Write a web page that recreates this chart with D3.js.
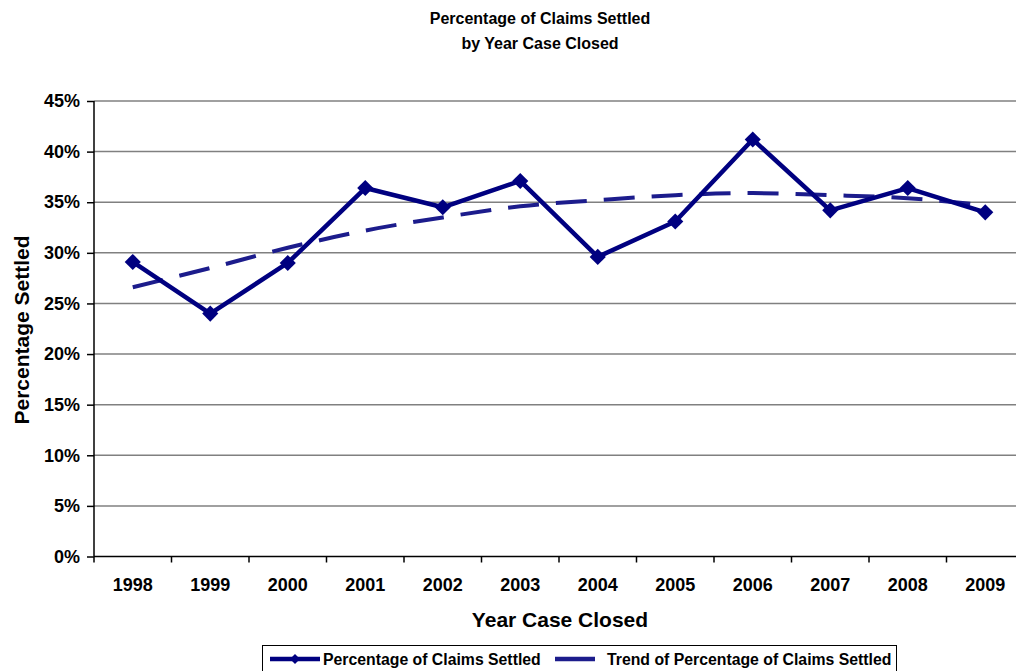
<!DOCTYPE html>
<html>
<head>
<meta charset="utf-8">
<script src="https://cdn.jsdelivr.net/npm/d3@7"></script>
<style>
  body { margin: 0; background: #fff; }
  svg { display: block; font-family: "Liberation Sans", Arial, sans-serif; }
</style>
</head>
<body>
<script>
var width = 1016,
    height = 671;

// data
var years = ["1998", "1999", "2000", "2001", "2002", "2003", "2004", "2005", "2006", "2007", "2008", "2009"];
var settled = [29.1, 24.0, 29.0, 36.4, 34.5, 37.1, 29.6, 33.1, 41.2, 34.2, 36.4, 34.0];
var trend = [26.6, 28.5, 30.5, 32.2, 33.5, 34.6, 35.2, 35.7, 35.9, 35.7, 35.4, 34.7];
var yTicks = [0, 5, 10, 15, 20, 25, 30, 35, 40, 45];

var margin = { top: 101, left: 94 };
var plotW = 930, plotH = 455.5;
var navy = "#000080";

var svg = d3.select("body")
    .append("svg")
    .attr("width", width)
    .attr("height", height);

var x = d3.scaleBand()
    .domain(years)
    .range([0, plotW]);

var y = d3.scaleLinear()
    .domain([0, 45])
    .range([plotH, 0]);

var g = svg.append("g")
    .attr("transform", "translate(" + margin.left + "," + margin.top + ")");

// gridlines
g.append("g")
    .selectAll("line")
    .data(yTicks.filter(function (d) { return d > 0; }))
    .enter().append("line")
    .attr("x1", 0)
    .attr("x2", plotW)
    .attr("y1", function (d) { return y(d); })
    .attr("y2", function (d) { return y(d); })
    .style("stroke", "#808080")
    .style("stroke-width", 1.5);

// y axis
var yAxis = d3.axisLeft(y)
    .tickValues(yTicks)
    .tickFormat(function (d) { return d + "%"; })
    .tickSize(7)
    .tickPadding(7);

g.append("g")
    .call(yAxis)
    .call(function (a) {
        a.select(".domain").attr("d", "M0," + plotH + "V0").style("stroke", "#000").style("stroke-width", 1.5);
        a.selectAll(".tick line").style("stroke", "#000").style("stroke-width", 1.5);
        a.selectAll("text")
            .style("font-size", "18px")
            .style("font-weight", "bold")
            .style("fill", "#000");
    });

// x axis: ticks on band boundaries
var xAxisG = g.append("g")
    .attr("transform", "translate(0," + plotH + ")");

xAxisG.append("line")
    .attr("x1", 0).attr("x2", plotW)
    .style("stroke", "#000")
    .style("stroke-width", 1.5);

xAxisG.selectAll(".bt")
    .data(years)
    .enter().append("line")
    .attr("class", "bt")
    .attr("x1", function (d) { return x(d); })
    .attr("x2", function (d) { return x(d); })
    .attr("y1", 0).attr("y2", 6)
    .style("stroke", "#000")
    .style("stroke-width", 1.5);

xAxisG.selectAll("text")
    .data(years)
    .enter().append("text")
    .attr("x", function (d) { return x(d) + x.bandwidth() / 2; })
    .attr("y", 34.5)
    .attr("text-anchor", "middle")
    .style("font-size", "18px")
    .style("font-weight", "bold")
    .text(function (d) { return d; });

var cx = function (d, i) { return x(years[i]) + x.bandwidth() / 2; };

// trend line
var trendLine = d3.line()
    .x(function (d, i) { return cx(d, i); })
    .y(function (d) { return y(d); })
    .curve(d3.curveMonotoneX);

g.append("path")
    .datum(trend)
    .attr("d", trendLine)
    .style("fill", "none")
    .style("stroke", "#1c1c8c")
    .style("stroke-width", 4)
    .style("stroke-dasharray", "31,17");

// data line
var dataLine = d3.line()
    .x(function (d, i) { return cx(d, i); })
    .y(function (d) { return y(d); });

g.append("path")
    .datum(settled)
    .attr("d", dataLine)
    .style("fill", "none")
    .style("stroke", navy)
    .style("stroke-width", 4.5)
    .style("stroke-linejoin", "round");

var diamond = d3.symbol().type(d3.symbolSquare).size(130);

g.append("g")
    .selectAll("path")
    .data(settled)
    .enter().append("path")
    .attr("d", diamond)
    .attr("transform", function (d, i) {
        return "translate(" + cx(d, i) + "," + y(d) + ") rotate(45)";
    })
    .style("fill", navy);

// titles
svg.append("text")
    .attr("x", 540).attr("y", 24)
    .attr("text-anchor", "middle")
    .style("font-size", "16px").style("font-weight", "bold")
    .text("Percentage of Claims Settled");

svg.append("text")
    .attr("x", 540).attr("y", 49)
    .attr("text-anchor", "middle")
    .style("font-size", "16px").style("font-weight", "bold")
    .text("by Year Case Closed");

svg.append("text")
    .attr("x", 560).attr("y", 627)
    .attr("text-anchor", "middle")
    .style("font-size", "21px").style("font-weight", "bold")
    .text("Year Case Closed");

svg.append("text")
    .attr("transform", "translate(29,330) rotate(-90)")
    .attr("text-anchor", "middle")
    .style("font-size", "21px").style("font-weight", "bold")
    .text("Percentage Settled");

// legend
var legend = svg.append("g");

legend.append("rect")
    .attr("x", 262.5).attr("y", 645.5)
    .attr("width", 634).attr("height", 40)
    .style("fill", "#fff")
    .style("stroke", "#000")
    .style("stroke-width", 1);

legend.append("line")
    .attr("x1", 270).attr("x2", 320)
    .attr("y1", 659).attr("y2", 659)
    .style("stroke", navy).style("stroke-width", 4.5);

legend.append("path")
    .attr("d", d3.symbol().type(d3.symbolSquare).size(50))
    .attr("transform", "translate(295,659) rotate(45)")
    .style("fill", navy);

legend.append("text")
    .attr("x", 323).attr("y", 665)
    .style("font-size", "15.8px").style("font-weight", "bold")
    .text("Percentage of Claims Settled");

legend.append("line")
    .attr("x1", 555).attr("x2", 595)
    .attr("y1", 659).attr("y2", 659)
    .style("stroke", "#1c1c8c").style("stroke-width", 4.5);

legend.append("text")
    .attr("x", 607).attr("y", 665)
    .style("font-size", "15.8px").style("font-weight", "bold")
    .text("Trend of Percentage of Claims Settled");
</script>
</body>
</html>
